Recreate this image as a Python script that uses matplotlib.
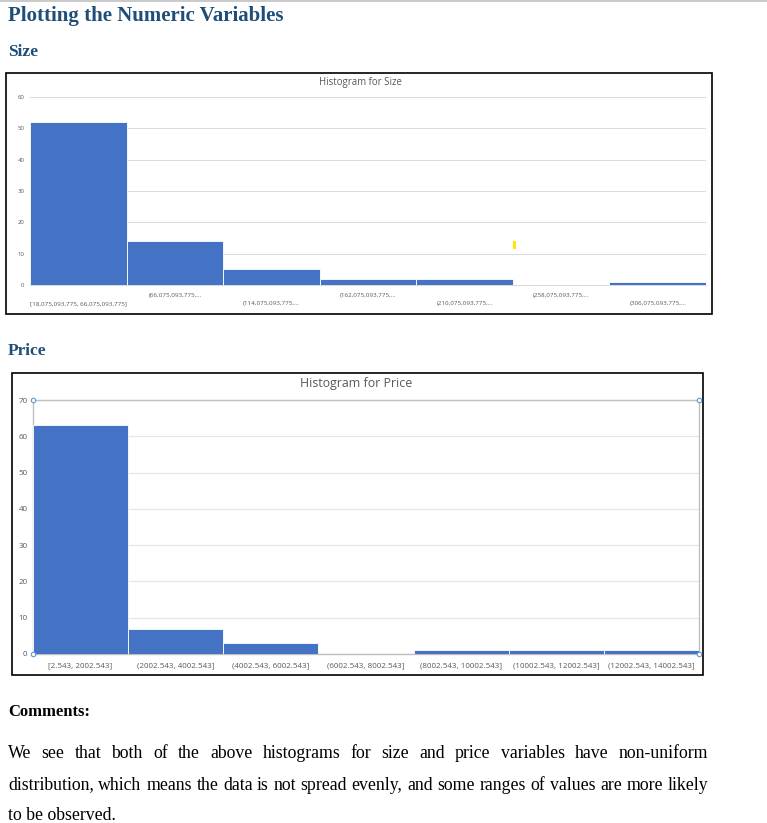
import numpy as np
import matplotlib.pyplot as plt
import matplotlib.patches as mpatches
from matplotlib.lines import Line2D

# --- Data ---
size_bins = ["[18,075,093,775, 66,075,093,775]", "(66,075,093,775,...", "(114,075,093,775,...",
             "(162,075,093,775,...", "(210,075,093,775,...", "(258,075,093,775,...",
             "(306,075,093,775,..."]
size_counts = [52, 14, 5, 2, 2, 0, 1]

price_bins = ["[2.543, 2002.543]", "(2002.543, 4002.543]", "(4002.543, 6002.543]",
              "(6002.543, 8002.543]", "(8002.543, 10002.543]", "(10002.543, 12002.543]",
              "(12002.543, 14002.543]"]
price_counts = [63, 7, 3, 0, 1, 1, 1]

size_yticks = [0, 10, 20, 30, 40, 50, 60]
price_yticks = [0, 10, 20, 30, 40, 50, 60, 70]

W, H = 767, 823
BAR = '#4472C4'
HEAD = '#1F4E79'
GRID = '#D9D9D9'
SERIF = ['Liberation Serif', 'DejaVu Serif']
SANS = ['Open Sans', 'DejaVu Sans']

fig = plt.figure(figsize=(W / 100, H / 100), dpi=100)


def fx(x):
    return x / W


def fy(y):
    return 1 - y / H


def box(x0, y0, x1, y1, **kw):
    fig.add_artist(mpatches.Rectangle((fx(x0), fy(y1)), fx(x1) - fx(x0), fy(y0) - fy(y1),
                                      transform=fig.transFigure, **kw))


def axes_px(x0, y0, x1, y1):
    return fig.add_axes([fx(x0), fy(y1), fx(x1) - fx(x0), fy(y0) - fy(y1)])


# --- Document headings ---
fig.add_artist(Line2D([0, 1], [fy(1), fy(1)], color='#C0C0C0', lw=1.2, transform=fig.transFigure))
fig.text(fx(8), fy(16), "Plotting the Numeric Variables", family=SERIF, weight='bold',
         fontsize=15, color=HEAD, va='center', ha='left')
fig.text(fx(8), fy(52), "Size", family=SERIF, weight='bold', fontsize=12.5, color=HEAD,
         va='center', ha='left')
fig.text(fx(8), fy(351), "Price", family=SERIF, weight='bold', fontsize=12.5, color=HEAD,
         va='center', ha='left')

# --- Size histogram ---
box(6, 73, 712, 314, fill=False, edgecolor='black', lw=1.2)
fig.text(fx(360), fy(82), "Histogram for Size", family=SANS, fontsize=6.9, color='#595959',
         ha='center', va='center')
ax1 = axes_px(30, 97, 706, 285)
x = np.arange(len(size_counts))
ax1.bar(x, size_counts, width=1.0, color=BAR, edgecolor='white', linewidth=0.6, zorder=3)
ax1.set_xlim(-0.5, len(size_counts) - 0.5)
ax1.set_ylim(0, 60)
ax1.set_yticks(size_yticks)
ax1.set_yticklabels([str(v) for v in size_yticks], fontsize=4.3, color='#595959', family=SANS)
ax1.grid(axis='y', color=GRID, lw=0.7, zorder=0)
ax1.set_xticks(x)
ax1.set_xticklabels([("\n" + s) if i % 2 == 0 else s for i, s in enumerate(size_bins)],
                    fontsize=4.5, color='#595959', family=SANS, linespacing=1.9)
ax1.tick_params(axis='x', length=0, pad=5.5)
ax1.tick_params(axis='y', length=0, pad=4)
for sp in ['left', 'right', 'top']:
    ax1.spines[sp].set_visible(False)
ax1.spines['bottom'].set_color(GRID)
ax1.spines['bottom'].set_linewidth(0.7)
# small yellow mark
box(513, 241, 516, 249, color='#FFE600', lw=0)

# --- Price histogram ---
box(12, 373, 703, 675, fill=False, edgecolor='black', lw=1.2)
fig.text(fx(356), fy(384), "Histogram for Price", family=SANS, fontsize=8.9, color='#595959',
         ha='center', va='center')
ax2 = axes_px(33, 400, 699, 654)
x = np.arange(len(price_counts))
ax2.bar(x, price_counts, width=1.0, color=BAR, edgecolor='white', linewidth=0.6, zorder=3)
ax2.set_xlim(-0.5, len(price_counts) - 0.5)
ax2.set_ylim(0, 70)
ax2.set_yticks(price_yticks)
ax2.set_yticklabels([str(v) for v in price_yticks], fontsize=5.8, color='#595959', family=SANS)
ax2.grid(axis='y', color='#E6E6E6', lw=0.9, zorder=0)
ax2.set_xticks(x)
ax2.set_xticklabels(price_bins, fontsize=5.8, color='#595959', family=SANS)
ax2.tick_params(axis='x', length=0, pad=6)
ax2.tick_params(axis='y', length=0, pad=4)
for sp in ax2.spines.values():
    sp.set_color('#BFBFBF')
    sp.set_linewidth(1.0)
# selection handles at the plot-area corners
for hx, hy in [(33, 400), (33, 654), (699, 400), (699, 654)]:
    fig.add_artist(Line2D([fx(hx)], [fy(hy)], marker='o', markersize=3.2, markerfacecolor='white',
                          markeredgecolor='#5B9BD5', markeredgewidth=0.8,
                          transform=fig.transFigure))

# --- Comments ---
fig.text(fx(8), fy(712), "Comments:", family=SERIF, weight='bold', fontsize=12, color='black',
         va='center', ha='left')

para = [
    ("We see that both of the above histograms for size and price variables have non-uniform", True),
    ("distribution, which means the data is not spread evenly, and some ranges of values are more likely", True),
    ("to be observed.", False),
]
line_y = [753, 785, 816]
x_left, x_right = 8, 708
renderer = fig.canvas.get_renderer()
for (line, justify), ly in zip(para, line_y):
    if not justify:
        fig.text(fx(x_left), fy(ly), line, family=SERIF, fontsize=12.8, va='center', ha='left')
        continue
    words = line.split(" ")
    texts = [fig.text(0, fy(ly), w, family=SERIF, fontsize=12.8, va='center', ha='left') for w in words]
    widths = [t.get_window_extent(renderer).width for t in texts]
    gap = (x_right - x_left - sum(widths)) / (len(words) - 1)
    cur = x_left
    for t, w in zip(texts, widths):
        t.set_x(fx(cur))
        cur += w + gap

fig.savefig("out.png", dpi=100, facecolor='white')
